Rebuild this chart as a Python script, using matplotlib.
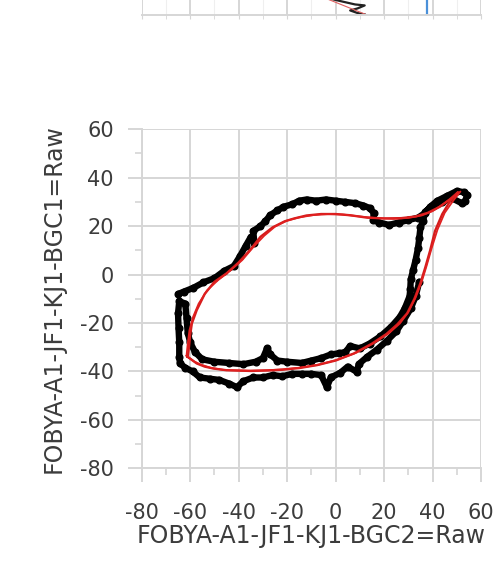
"""Hysteresis loop: BGC1 vs BGC2 raw, with fitted loops."""
import matplotlib.pyplot as plt
import matplotlib as mpl
from matplotlib.ticker import MultipleLocator

mpl.rcParams.update({'font.family': ['DejaVu Sans'], 'font.size': 15,
                     'axes.unicode_minus': False})

# measured trace (black), going round the loop
raw_x = [-64.9, -62.5, -58.7, -54.5, -50, -46, -42, -39.5, -37, -35, -33.5, -34, -31, -29, -27, -24,
         -21.5, -18, -15, -12, -8, -4, 0, 4, 8, 11.5, 14, 15.7, 15.5, 18, 22, 26, 30, 34, 37,
         39, 42, 46, 50, 53, 54.3, 53.5, 52, 48, 44, 40, 37, 36, 35, 34.5, 34, 33, 32, 31,
         30.8, 30.5, 28.5, 26.5, 23, 18.5, 14, 10, 6, 4, 1.5, -2, -6, -10, -14, -20, -24,
         -27, -28.3, -30, -33, -38, -44, -50, -55, -58, -60, -61, -61.5, -62, -64.5, -65,
         -64.8, -64.5, -64.5, -64.2, -62, -59, -56, -52, -48, -44, -40.7, -38, -34, -30, -26,
         -22, -18, -14, -10, -6, -3.6, -2, 2, 5, 8.8, 9.5, 13, 17, 21, 25, 28, 31, 33, 34.5]
raw_y = [-8, -7, -5.5, -3.2, -1.5, 1.5, 3.5, 7.5, 12, 15.5, 13, 18, 20, 22, 24.5, 26.5,
         28, 29, 30.5, 31, 30.5, 31, 30.5, 30, 29.5, 28.5, 27.5, 25.5, 22.5, 21.5, 20.5, 21.5,
         22.5, 23.5, 25.5, 28, 30.5, 32.5, 34.5, 34, 33, 30.5, 29.5, 31.5, 30, 28.5, 26, 22,
         19.5, 15, 11, 6, 2, -2, -6, -9, -14, -17.5, -21.5, -25.5, -28.5, -30.5, -29.5, -32,
         -32.5, -33, -34.5, -35.5, -36.5, -36, -35.5, -33, -30.5, -34.5, -36, -37, -36.5, -36,
         -35, -32, -28, -24, -18, -12, -11, -16, -22, -28, -34, -36.7, -38.5, -40, -42.5,
         -43, -43.5, -45, -46.5, -44, -42.5, -42.5, -41.5, -42, -41, -41, -41, -41.5, -46.5,
         -42.5, -40.5, -38, -40.2, -37, -34, -31, -27.5, -23.5, -19, -14, -9, -3]

# fitted loops (red)
fit1_x = [-61, -60.5, -60, -59.3, -57.3, -54, -50, -45, -40, -35, -31, -26, -21, -17, -12, -6,
          0, 6, 13, 20, 27, 33, 38, 43, 47, 50.5, 47, 44, 41, 39, 37, 35, 32.5, 29.5, 25.5,
          21, 15, 7.5, 0, -7.7, -15, -22, -28, -35, -45, -50.4, -54, -57.3, -61]
fit1_y = [-34, -30, -25, -20.2, -14.7, -8, -3, 0.5, 5, 10.5, 15.6, 19.5, 22, 23.2, 24.4, 25,
          25, 24.5, 23.5, 23.2, 23.3, 24, 25.5, 28, 31, 34, 30, 25, 18, 10, 3, -3.5, -10,
          -16, -20.5, -24.5, -28.5, -32.6, -35.5, -37.4, -38.6, -39.3, -39.6, -39.8, -39.5,
          -38.8, -38, -36.7, -34]
fit2_x = [-61.5, -61, -60.3, -58.8, -56.5, -53, -48.5, -43.5, -38.5, -34, -29.5, -25, -20, -15,
          -9, -3, 3, 10, 17, 24, 30, 35.5, 40, 44.5, 48.5, 51.5, 48.5, 45, 42, 39.5, 37.5, 35.5,
          33, 30, 26.5, 22, 16, 8.5, 0.5, -7, -14.5, -21.5, -28, -36, -46, -51.5, -55.5, -58.5,
          -61.5]
fit2_y = [-33.5, -28.5, -23, -17.5, -12, -6.5, -2.3, 1.6, 6, 11.3, 16, 19.8, 22.3, 23.6, 24.6, 25,
          24.8, 24, 23.3, 23, 23.4, 24.4, 26.2, 29.2, 32, 34.3, 30.5, 25.5, 18.5, 10.5, 3.5, -3,
          -9.5, -15.5, -20.2, -24.2, -28.2, -32.3, -35.2, -37.2, -38.4, -39.1, -39.5, -39.7, -39.4,
          -38.5, -37.2, -35.8, -33.5]

# sliver of the chart above
top_x = [-1, 3, 8, 12, 9, 6, 9, 12]
top_y = [6.2, 5.3, 4.2, 3.8, 2.6, 1.8, 0.8, 0.2]
top_red_x = [-3, 13]
top_red_y = [6.2, 0]
top_blue = 37.5

GRID = '#d6d6d6'
TXT = '#3c3c3c'

fig = plt.figure(figsize=(4.98, 5.70), dpi=100)

# main axes
ax = fig.add_axes([0.2845, 0.1784, 0.6815, 0.5948])
ax.plot(raw_x, raw_y, color='black', lw=4.6, marker='o', ms=4.8, solid_joinstyle='round',
        solid_capstyle='round', zorder=3)
ax.plot(fit1_x, fit1_y, color='#d41c1c', lw=1.7, zorder=4)
ax.plot(fit2_x, fit2_y, color='#e02020', lw=1.3, zorder=4)

ax.set_xlim(-80, 60)
ax.set_ylim(-80, 60)
ax.xaxis.set_major_locator(MultipleLocator(20))
ax.yaxis.set_major_locator(MultipleLocator(20))
ax.xaxis.set_minor_locator(MultipleLocator(10))
ax.yaxis.set_minor_locator(MultipleLocator(10))
ax.grid(which='major', color=GRID, lw=1.4)
ax.set_axisbelow(True)
for s in ['top', 'right']:
    ax.spines[s].set_visible(False)
for s in ['left', 'bottom']:
    ax.spines[s].set_color(GRID)
    ax.spines[s].set_linewidth(1.4)
ax.tick_params(which='major', length=10, width=1.4, color=GRID, labelcolor=TXT, labelsize=15)
ax.tick_params(axis='y', which='major', pad=10)
ax.tick_params(axis='x', which='major', pad=15)
ax.tick_params(which='minor', length=5, width=1.2, color=GRID)
ax.set_xlabel('FOBYA-A1-JF1-KJ1-BGC2=Raw', color=TXT, fontsize=17, labelpad=1)
ax.set_ylabel('FOBYA-A1-JF1-KJ1-BGC1=Raw', color=TXT, fontsize=17, labelpad=10)

# top sliver of previous chart
ax2 = fig.add_axes([0.2845, 0.9737, 0.6815, 0.03])
ax2.plot(top_x, top_y, color='#222222', lw=1.6)
ax2.plot(top_red_x, top_red_y, color='#e06060', lw=0.8)
ax2.axvline(top_blue, color='#4a90d9', lw=1.6)
ax2.set_xlim(-80, 60)
ax2.set_ylim(0, 6.8)
ax2.xaxis.set_major_locator(MultipleLocator(20))
ax2.xaxis.set_minor_locator(MultipleLocator(10))
ax2.grid(which='major', axis='x', color=GRID, lw=1.4)
ax2.grid(which='minor', axis='x', color='#efefef', lw=0.8)
ax2.set_yticks([])
ax2.set_axisbelow(True)
for s in ['top', 'right', 'left']:
    ax2.spines[s].set_visible(False)
ax2.spines['bottom'].set_color(GRID)
ax2.spines['bottom'].set_linewidth(1.4)
ax2.tick_params(which='both', length=3, color=GRID, labelbottom=False)

fig.savefig('out.png', dpi=100)
